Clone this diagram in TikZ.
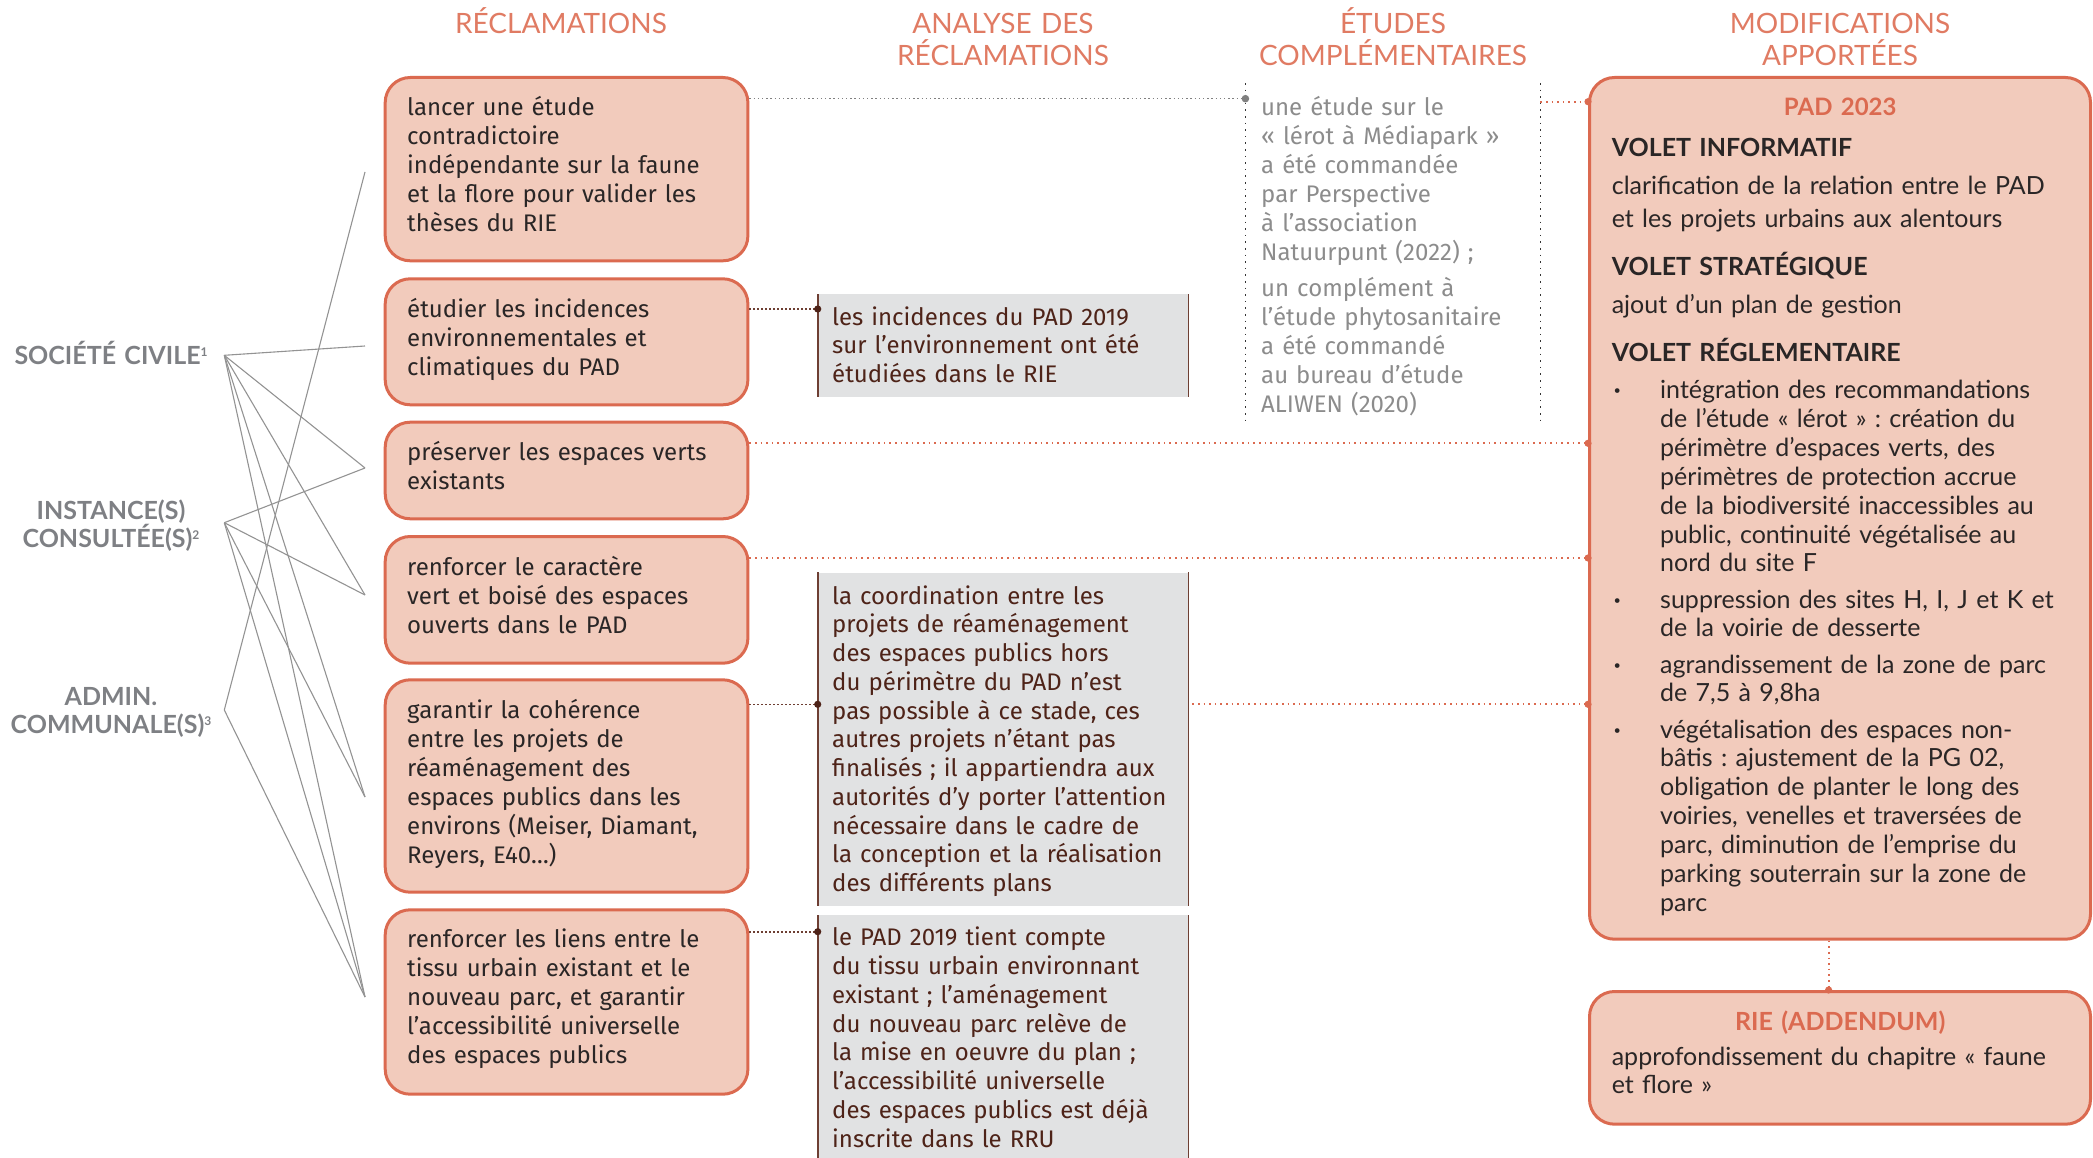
\documentclass[tikz,border=0pt]{standalone}
\usepackage{fontspec}
\setmainfont{Fira Sans}
\newfontfamily\latofont{Lato}
\frenchspacing
\definecolor{salmon}{HTML}{DB6A50}
\definecolor{hdrcol}{HTML}{E07B63}
\definecolor{boxfill}{HTML}{F2CBBC}
\definecolor{greyfill}{HTML}{E1E2E3}
\definecolor{browntxt}{HTML}{4E2318}
\definecolor{brownline}{HTML}{6E3F33}
\definecolor{txt}{HTML}{2A2626}
\definecolor{etudecol}{HTML}{8C8C8C}
\definecolor{lblcol}{HTML}{7E8084}
\definecolor{linecol}{HTML}{939393}
\newcommand{\firstl}{\rule{0pt}{30pt}}
\newcommand{\bul}{\makebox[48.4pt][l]{\hspace*{2pt}\textbf{·}}}
\newcommand{\ind}{\hspace*{48.4pt}}
\newcommand{\supn}[1]{\raisebox{8pt}{\fontsize{12}{12}\selectfont #1}}
\begin{document}
\begin{tikzpicture}[x=1pt,y=-1pt,
  redbox/.style={draw=salmon, line width=3pt, fill=boxfill, rounded corners=25pt, inner sep=0pt, anchor=north west},
  greybox/.style={fill=greyfill, inner sep=0pt, anchor=north west},
  sideline/.style={draw=brownline, line width=1.8pt},
  coltxt/.style={anchor=north west, inner sep=0pt, text width=420pt, align=left, text=txt, font=\frenchspacing\fontsize{24}{29}\selectfont},
  antxt/.style={anchor=north west, inner sep=0pt, text width=420pt, align=left, text=browntxt, font=\frenchspacing\fontsize{24}{28.75}\selectfont},
  ettxt/.style={anchor=north west, inner sep=0pt, text width=400pt, align=left, text=etudecol, font=\frenchspacing\fontsize{24}{29}\selectfont},
  padtxt/.style={anchor=north west, inner sep=0pt, text width=520pt, align=left, text=txt, font=\frenchspacing\latofont\fontsize{25}{28.9}\selectfont},
  hdr/.style={anchor=north, inner sep=0pt, text width=400pt, align=center, text=hdrcol, font=\latofont\fontsize{28}{32}\selectfont},
  lbl/.style={anchor=north, inner sep=0pt, text width=260pt, align=center, text=lblcol, font=\latofont\bfseries\fontsize{25}{28.7}\selectfont},
  link/.style={draw=linecol, line width=1.1pt},
  brdot/.style={draw=brownline, line width=1.6pt, dash pattern=on 1.4pt off 2.6pt},
  gdot/.style={draw=gray, line width=1.6pt, dash pattern=on 1.4pt off 2.8pt},
  sdot/.style={draw=salmon, line width=1.8pt, dash pattern=on 1.6pt off 4pt},
  etdot/.style={draw=black!80, line width=1.6pt, dash pattern=on 1.6pt off 5pt}
]
\useasboundingbox (0,0) rectangle (2093,1158);

% headers
\node[hdr] (h1) at (561,3) {\firstl RÉCLAMATIONS};
\node[hdr] (h2) at (1003,3) {\firstl ANALYSE DES\\RÉCLAMATIONS};
\node[hdr] (h3) at (1393,3) {\firstl ÉTUDES\\COMPLÉMENTAIRES};
\node[hdr] (h4) at (1840,3) {\firstl MODIFICATIONS\\APPORTÉES};

% left labels
\node[lbl] (sclbl) at (111,334) {\firstl SOCIÉTÉ CIVILE\supn{1}};
\node[lbl] (iclbl) at (111,489) {\firstl INSTANCE(S)\\CONSULTÉE(S)\supn{2}};
\node[lbl] (aclbl) at (111,675) {\firstl ADMIN.\\COMMUNALE(S)\supn{3}};

% reclamation boxes
\node[redbox, minimum width=362.7pt, minimum height=183.3pt] (box1) at (383.7,76) {};
\node[redbox, minimum width=362.7pt, minimum height=126pt] (box2) at (383.7,277.3) {};
\node[redbox, minimum width=362.7pt, minimum height=96.6pt] (box3) at (383.7,420.7) {};
\node[redbox, minimum width=362.7pt, minimum height=126.7pt] (box4) at (383.7,535) {};
\node[redbox, minimum width=362.7pt, minimum height=212.4pt] (box5) at (383.7,678.3) {};
\node[redbox, minimum width=362.7pt, minimum height=184.4pt] (box6) at (383.7,908.3) {};

\node[coltxt] (t1) at (407,85.2) {\firstl lancer une étude\\contradictoire\\indépendante sur la faune\\et la flore pour valider les\\thèses du RIE};
\node[coltxt] (t2) at (407,286.8) {\firstl étudier les incidences\\environnementales et\\climatiques du PAD};
\node[coltxt] (t3) at (407,430) {\firstl préserver les espaces verts\\existants};
\node[coltxt] (t4) at (407,545) {\firstl renforcer le caractère\\vert et boisé des espaces\\ouverts dans le PAD};
\node[coltxt] (t5) at (407,688) {\firstl garantir la cohérence\\entre les projets de\\réaménagement des\\espaces publics dans les\\environs (Meiser, Diamant,\\Reyers, E40…)};
\node[coltxt] (t6) at (407,917.5) {\firstl renforcer les liens entre le\\tissu urbain existant et le\\nouveau parc, et garantir\\l’accessibilité universelle\\des espaces publics};

% analysis boxes
\node[greybox, minimum width=370.3pt, minimum height=102.4pt] (a1) at (817.7,294.3) {};
\node[greybox, minimum width=370.3pt, minimum height=333.7pt] (a2) at (817.7,572.3) {};
\node[greybox, minimum width=370.3pt, minimum height=255pt] (a3) at (817.7,915) {};
\foreach \b in {a1,a2,a3}{
  \draw[sideline] (\b.north west) -- (\b.south west);
  \draw[sideline] (\b.north east) -- (\b.south east);
}
\node[antxt] (a1t) at (832,295) {\firstl les incidences du PAD 2019\\sur l’environnement ont été\\étudiées dans le RIE};
\node[antxt] (a2t) at (832,574) {\firstl la coordination entre les\\projets de réaménagement\\des espaces publics hors\\du périmètre du PAD n’est\\pas possible à ce stade, ces\\autres projets n’étant pas\\finalisés ; il appartiendra aux\\autorités d’y porter l’attention\\nécessaire dans le cadre de\\la conception et la réalisation\\des différents plans};
\node[antxt] (a3t) at (832,915.7) {\firstl le PAD 2019 tient compte\\du tissu urbain environnant\\existant ; l’aménagement\\du nouveau parc relève de\\la mise en oeuvre du plan ;\\l’accessibilité universelle\\des espaces publics est déjà\\inscrite dans le RRU};

% etudes
\coordinate (etl1) at (1245.4,83);
\coordinate (etl2) at (1245.4,425);
\coordinate (etr1) at (1540.4,83);
\coordinate (etr2) at (1540.4,425);
\draw[etdot] (etl1) -- (etl2);
\draw[etdot] (etr1) -- (etr2);
\node[ettxt] (et) at (1261,85) {\firstl une étude sur le\\«~lérot à Médiapark~»\\a été commandée\\par Perspective\\à l’association\\Natuurpunt (2022)~;\\[7pt]un complément à\\l’étude phytosanitaire\\a été commandé\\au bureau d’étude\\ALIWEN (2020)};

% PAD box
\node[redbox, minimum width=501pt, minimum height=861.7pt] (pad) at (1588,76) {};
\node[padtxt] (padt) at (1611.6,85) {\firstl\makebox[456.8pt][c]{\color{salmon}\bfseries\fontsize{24}{28}\selectfont PAD 2023}\\[12.2pt]
{\bfseries VOLET INFORMATIF}\\[9.5pt]
clarification de la relation entre le PAD\\[3.6pt]
et les projets urbains aux alentours\\[19.5pt]
{\bfseries VOLET STRATÉGIQUE}\\[9.5pt]
ajout d’un plan de gestion\\[18.9pt]
{\bfseries VOLET RÉGLEMENTAIRE}\\[7.9pt]
\bul intégration des recommandations\\
\ind de l’étude «~lérot~» : création du\\
\ind périmètre d’espaces verts, des\\
\ind périmètres de protection accrue\\
\ind de la biodiversité inaccessibles au\\
\ind public, continuité végétalisée au\\
\ind nord du site F\\[7.2pt]
\bul suppression des sites H, I, J et K et\\
\ind de la voirie de desserte\\[7.2pt]
\bul agrandissement de la zone de parc\\
\ind de 7,5 à 9,8ha\\[7.2pt]
\bul végétalisation des espaces non-\\
\ind bâtis : ajustement de la PG 02,\\
\ind obligation de planter le long des\\
\ind voiries, venelles et traversées de\\
\ind parc, diminution de l’emprise du\\
\ind parking souterrain sur la zone de\\
\ind parc};

% RIE box
\node[redbox, minimum width=501pt, minimum height=132.7pt] (rie) at (1588,990) {};
\node[padtxt, font=\frenchspacing\latofont\fontsize{25}{28.3}\selectfont] (riet) at (1611.6,1000) {\firstl\makebox[456.8pt][c]{\color{salmon}\bfseries\fontsize{25}{28}\selectfont RIE (ADDENDUM)}\\[6.7pt]
approfondissement du chapitre «~faune\\
et flore~»};

% left links
\coordinate (sc) at (224.3,355.3);
\coordinate (ic) at (224.3,522.7);
\coordinate (ac) at (224.3,710);
\coordinate (r1) at (365,172);
\coordinate (r2) at (365,346);
\coordinate (r3) at (365,468);
\coordinate (r4) at (365,595);
\coordinate (r5) at (365,797);
\coordinate (r6) at (365,997);
\foreach \r in {r2,r3,r4,r5,r6} \draw[link] (sc) -- (\r);
\foreach \r in {r3,r4,r5,r6} \draw[link] (ic) -- (\r);
\foreach \r in {r1,r6} \draw[link] (ac) -- (\r);

% dotted connectors
\draw[gdot] (box1.east |- 0,98.7) -- (etl1 |- 0,98.7);
\fill[gray] (etl1 |- 0,98.7) circle (3.8pt);
\draw[sdot] (etr1 |- 0,101.7) -- (pad.west |- 0,101.7);
\fill[salmon] (pad.west |- 0,101.7) circle (3.6pt);

\draw[brdot] (box2.east |- 0,309) -- (a1.west |- 0,309);
\fill[browntxt] (a1.west |- 0,309) circle (3.6pt);

\draw[sdot] (box3.east |- 0,443.3) -- (pad.west |- 0,443.3);
\fill[salmon] (pad.west |- 0,443.3) circle (3.6pt);
\draw[sdot] (box4.east |- 0,558) -- (pad.west |- 0,558);
\fill[salmon] (pad.west |- 0,558) circle (3.6pt);

\draw[brdot] (box5.east |- 0,704.3) -- (a2.west |- 0,704.3);
\fill[browntxt] (a2.west |- 0,704.3) circle (3.6pt);
\draw[sdot] ([xshift=4pt]a2.east |- 0,704.3) -- (pad.west |- 0,704.3);
\fill[salmon] (pad.west |- 0,704.3) circle (3.6pt);

\draw[brdot] (box6.east |- 0,931.7) -- (a3.west |- 0,931.7);
\fill[browntxt] (a3.west |- 0,931.7) circle (3.6pt);

\draw[sdot] (pad.south -| 1828.6,0) -- (rie.north -| 1828.6,0);
\fill[salmon] (rie.north -| 1828.6,0) circle (3.6pt);
\end{tikzpicture}
\end{document}
